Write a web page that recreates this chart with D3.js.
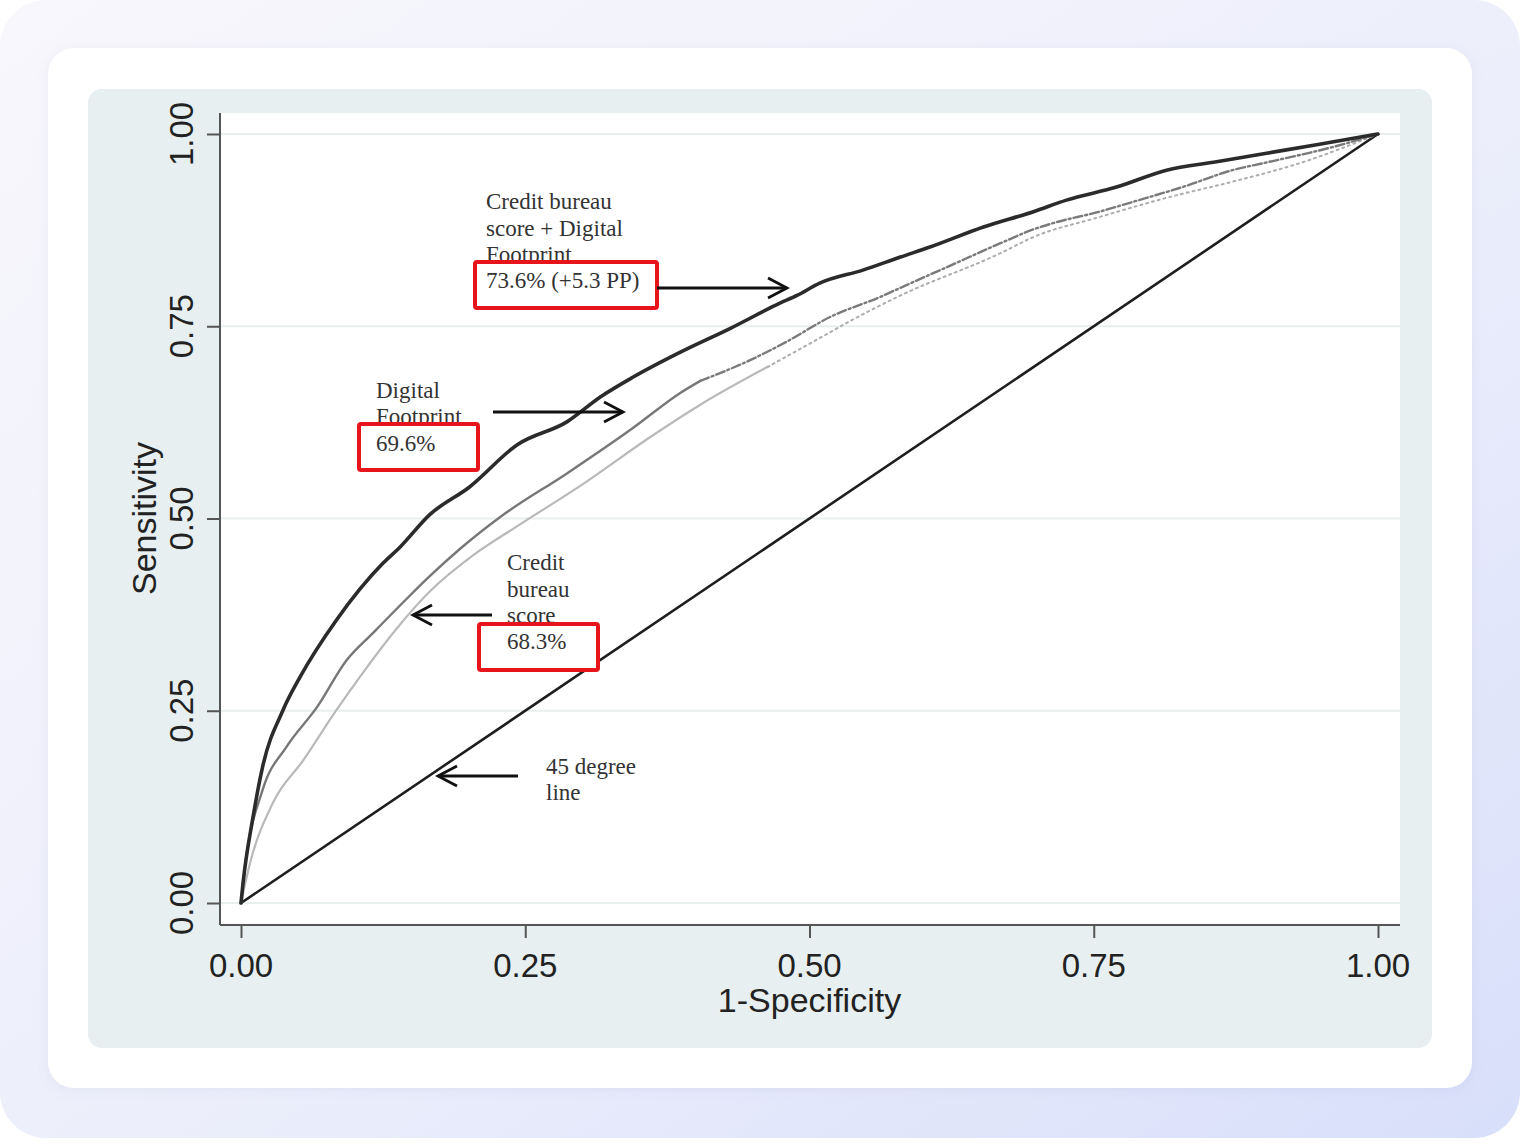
<!DOCTYPE html>
<html>
<head>
<meta charset="utf-8">
<script src="https://cdn.jsdelivr.net/npm/d3@7"></script>
<style>
html,body{margin:0;padding:0;background:#ffffff;}
svg{display:block;}
</style>
</head>
<body>
<svg id="chart" width="1520" height="1144"></svg>
<script>
// ---------- DATA (ROC curves: [1-specificity, sensitivity]) ----------
const combinedRoc = [[0,0],[0.0018,0.026],[0.0106,0.112],[0.019,0.177],[0.037,0.251],[0.052,0.294],[0.084,0.368],[0.125,0.442],[0.140,0.463],[0.166,0.505],[0.201,0.541],[0.243,0.596],[0.287,0.626],[0.316,0.658],[0.345,0.684],[0.386,0.716],[0.430,0.747],[0.474,0.780],[0.489,0.790],[0.509,0.806],[0.547,0.823],[0.580,0.840],[0.606,0.853],[0.653,0.879],[0.697,0.899],[0.726,0.914],[0.770,0.931],[0.814,0.953],[0.858,0.964],[0.902,0.975],[0.946,0.986],[1,1]];
const digitalRoc = [[0,0],[0.0035,0.047],[0.019,0.147],[0.040,0.203],[0.067,0.255],[0.093,0.316],[0.116,0.351],[0.146,0.396],[0.166,0.425],[0.193,0.461],[0.228,0.502],[0.287,0.559],[0.345,0.618],[0.386,0.663],[0.404,0.679],[0.445,0.704],[0.480,0.730],[0.518,0.762],[0.562,0.788],[0.580,0.800],[0.621,0.827],[0.668,0.858],[0.697,0.876],[0.714,0.884],[0.755,0.899],[0.785,0.912],[0.828,0.931],[0.872,0.953],[0.902,0.963],[0.960,0.983],[1,1]];
const bureauRoc = [[0,0],[0.008,0.052],[0.028,0.130],[0.055,0.186],[0.084,0.251],[0.107,0.299],[0.137,0.357],[0.166,0.405],[0.204,0.452],[0.243,0.490],[0.301,0.545],[0.360,0.606],[0.404,0.648],[0.463,0.697],[0.507,0.733],[0.536,0.757],[0.580,0.790],[0.668,0.845],[0.697,0.866],[0.755,0.892],[0.814,0.917],[0.872,0.938],[0.931,0.962],[1,1]];
const diagonal = [[0,0],[1,1]];

const tickValues = [0, 0.25, 0.5, 0.75, 1];
const tickLabels = ["0.00", "0.25", "0.50", "0.75", "1.00"];
const xTitle = "1-Specificity";
const yTitle = "Sensitivity";

const annoCombinedLines = ["Credit bureau", "score + Digital", "Footprint"];
const annoCombinedValue = "73.6% (+5.3 PP)";
const annoDigitalLines = ["Digital", "Footprint"];
const annoDigitalValue = "69.6%";
const annoBureauLines = ["Credit", "bureau", "score"];
const annoBureauValue = "68.3%";
const annoDiagLines = ["45 degree", "line"];

// ---------- LAYOUT ----------
const svg = d3.select("#chart");
const defs = svg.append("defs");
const grad = defs.append("linearGradient").attr("id","bg").attr("x1","0").attr("y1","0").attr("x2","1").attr("y2","1");
grad.append("stop").attr("offset","0").attr("stop-color","#f8f7fc");
grad.append("stop").attr("offset","0.55").attr("stop-color","#eceefb");
grad.append("stop").attr("offset","1").attr("stop-color","#d8dffa");
const shadow = defs.append("filter").attr("id","sh").attr("x","-5%").attr("y","-5%").attr("width","110%").attr("height","110%");
shadow.append("feDropShadow").attr("dx",0).attr("dy",2).attr("stdDeviation",6).attr("flood-color","#8890c0").attr("flood-opacity",0.12);

svg.append("rect").attr("x",0).attr("y",0).attr("width",1520).attr("height",1138).attr("rx",46).attr("fill","url(#bg)");
svg.append("rect").attr("x",48).attr("y",48).attr("width",1424).attr("height",1040).attr("rx",26).attr("fill","#ffffff").attr("filter","url(#sh)");
svg.append("rect").attr("x",88).attr("y",89).attr("width",1344).attr("height",959).attr("rx",14).attr("fill","#e7eff0");

// plot region
const plotL = 220, plotR = 1400, plotT = 113, plotB = 925;
svg.append("rect").attr("x",plotL).attr("y",plotT).attr("width",plotR-plotL).attr("height",plotB-plotT).attr("fill","#ffffff");

const x = d3.scaleLinear().domain([0,1]).range([241,1378]);
const y = d3.scaleLinear().domain([0,1]).range([903,134]);

// grid lines
svg.append("g").selectAll("line").data(tickValues).join("line")
  .attr("x1",plotL).attr("x2",plotR)
  .attr("y1",d=>y(d)).attr("y2",d=>y(d))
  .attr("stroke","#e9eeef").attr("stroke-width",2);

// axes
const axisColor = "#555";
const yAxis = d3.axisLeft(y).tickValues(tickValues).tickSize(13).tickFormat("");
const yg = svg.append("g").attr("transform",`translate(${plotL},0)`).call(yAxis);
yg.select(".domain").attr("d",`M0,${plotT}V${plotB}`).attr("stroke",axisColor).attr("stroke-width",2);
yg.selectAll(".tick line").attr("stroke",axisColor).attr("stroke-width",2);

const xAxis = d3.axisBottom(x).tickValues(tickValues).tickSize(13).tickFormat("");
const xg = svg.append("g").attr("transform",`translate(0,${plotB})`).call(xAxis);
xg.select(".domain").attr("d",`M${plotL},0H${plotR}`).attr("stroke",axisColor).attr("stroke-width",2);
xg.selectAll(".tick line").attr("stroke",axisColor).attr("stroke-width",2);

const sansFont = "'Liberation Sans', Arial, sans-serif";
// tick labels
svg.append("g").selectAll("text").data(tickValues).join("text")
  .attr("x",d=>x(d)).attr("y",977)
  .attr("text-anchor","middle").attr("font-family",sansFont).attr("font-size",33).attr("fill","#222")
  .text((d,i)=>tickLabels[i]);
svg.append("g").selectAll("text").data(tickValues).join("text")
  .attr("transform",d=>`translate(193,${y(d)}) rotate(-90)`)
  .attr("text-anchor","middle").attr("font-family",sansFont).attr("font-size",33).attr("fill","#222")
  .text((d,i)=>tickLabels[i]);

// axis titles
svg.append("text").attr("x",x(0.5)).attr("y",1012).attr("text-anchor","middle")
  .attr("font-family",sansFont).attr("font-size",34).attr("fill","#222").text(xTitle);
svg.append("text").attr("transform",`translate(156,${y(0.5)}) rotate(-90)`).attr("text-anchor","middle")
  .attr("font-family",sansFont).attr("font-size",34).attr("fill","#222").text(yTitle);

// ---------- CURVES ----------
const line = d3.line().x(d=>x(d[0])).y(d=>y(d[1])).curve(d3.curveMonotoneX);
const curves = svg.append("g").attr("fill","none").attr("stroke-linejoin","round").attr("stroke-linecap","round");

function splitAt(arr, t){
  const lo = arr.filter(d=>d[0] <= t);
  const hi = arr.filter(d=>d[0] >= lo[lo.length-1][0]);
  return [lo, hi];
}

// 45 degree line
curves.append("path").attr("d",d3.line().x(d=>x(d[0])).y(d=>y(d[1]))(diagonal)).attr("stroke","#1e1e1e").attr("stroke-width",2.6);

// Credit bureau score (light)
const [bLo, bHi] = splitAt(bureauRoc, 0.5);
curves.append("path").attr("d",line(bLo)).attr("stroke","#b9b9b9").attr("stroke-width",2.2);
curves.append("path").attr("d",line(bHi)).attr("stroke","#adadad").attr("stroke-width",2).attr("stroke-dasharray","2,4");

// Digital footprint (mid gray)
const [dLo, dHi] = splitAt(digitalRoc, 0.42);
curves.append("path").attr("d",line(dLo)).attr("stroke","#777").attr("stroke-width",2.4);
curves.append("path").attr("d",line(dHi)).attr("stroke","#7a7a7a").attr("stroke-width",2.4).attr("stroke-dasharray","9,3,2,3");

// Combined (dark)
curves.append("path").attr("d",line(combinedRoc)).attr("stroke","#2b2b2b").attr("stroke-width",3.6);

// ---------- ANNOTATIONS ----------
const serif = "'Liberation Serif', 'Times New Roman', serif";
const annoColor = "#333";
const lineH = 26.5;

function annotate(g, opts){
  const bx = x(opts.anchor[0]), by = y(opts.anchor[1]);
  const n = opts.lines.length;
  opts.lines.forEach((t,i)=>{
    g.append("text").attr("x",bx+opts.textDx).attr("y",by + opts.lastDy - (n-1-i)*lineH)
      .attr("font-family",serif).attr("font-size",23).attr("fill",annoColor).text(t);
  });
  if (opts.value){
    g.append("rect").attr("x",bx).attr("y",by).attr("width",opts.boxW).attr("height",opts.boxH)
      .attr("rx",2).attr("fill","#ffffff").attr("stroke","#e8141b").attr("stroke-width",4);
    g.append("text").attr("x",bx+opts.textDx).attr("y",by+opts.valueDy)
      .attr("font-family",serif).attr("font-size",23).attr("fill",annoColor).text(opts.value);
  }
}

function arrow(g, from, to){
  const x1 = x(from[0]), y1 = y(from[1]), x2 = x(to[0]), y2 = y(to[1]);
  const dir = Math.sign(x2 - x1);
  g.append("line").attr("x1",x1).attr("y1",y1).attr("x2",x2).attr("y2",y2)
    .attr("stroke","#111").attr("stroke-width",2.8);
  g.append("path").attr("d",`M${x2-dir*19},${y2-10}L${x2},${y2}L${x2-dir*19},${y2+10}`)
    .attr("fill","none").attr("stroke","#111").attr("stroke-width",2.8).attr("stroke-linejoin","miter");
}

const anno = svg.append("g");
annotate(anno, {anchor:[x.invert(475), y.invert(262)], textDx:11, lines:annoCombinedLines, lastDy:0, value:annoCombinedValue, valueDy:26, boxW:182, boxH:46});
annotate(anno, {anchor:[x.invert(359), y.invert(424)], textDx:17, lines:annoDigitalLines, lastDy:0, value:annoDigitalValue, valueDy:27, boxW:119, boxH:46});
annotate(anno, {anchor:[x.invert(479), y.invert(624)], textDx:28, lines:annoBureauLines, lastDy:-1, value:annoBureauValue, valueDy:25, boxW:119, boxH:46});
annotate(anno, {anchor:[x.invert(546), y.invert(800)], textDx:0, lines:annoDiagLines, lastDy:0});

arrow(anno, [x.invert(657), y.invert(288)], [x.invert(787), y.invert(288)]);
arrow(anno, [x.invert(493), y.invert(412)], [x.invert(623), y.invert(412)]);
arrow(anno, [x.invert(492), y.invert(615)], [x.invert(413), y.invert(615)]);
arrow(anno, [x.invert(518), y.invert(776)], [x.invert(438), y.invert(776)]);
</script>
</body>
</html>
